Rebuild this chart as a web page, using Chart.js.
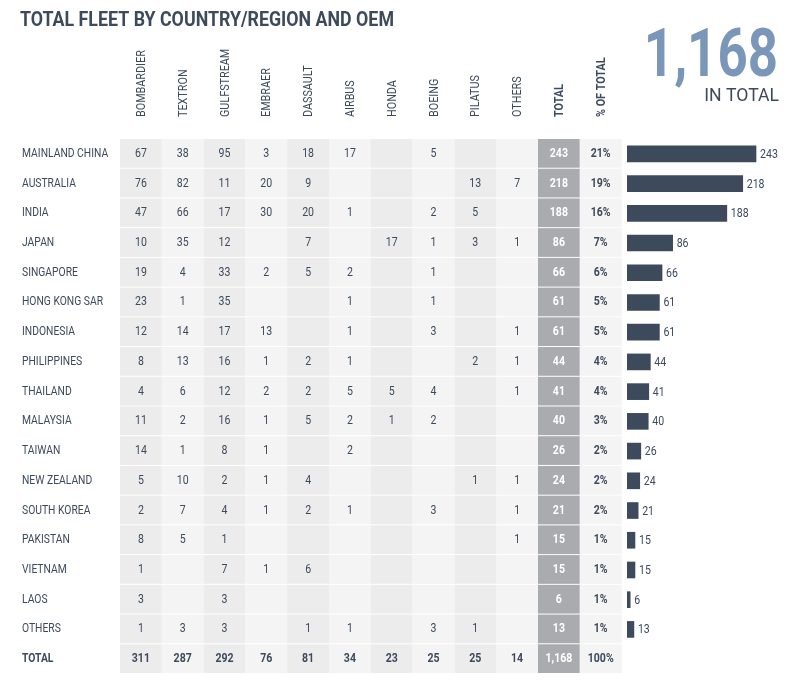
<!DOCTYPE html>
<html>
<head>
<meta charset="utf-8">
<script src="https://cdn.jsdelivr.net/npm/chart.js@4"></script>
<style>
  html, body { margin: 0; padding: 0; background: #fff; }
  #wrap { position: relative; width: 796px; height: 680px; }
</style>
</head>
<body>
<div id="wrap"><canvas id="fleet" width="796" height="680"></canvas></div>
<script>
const FONT = "'Roboto', sans-serif";
const oems = ["BOMBARDIER", "TEXTRON", "GULFSTREAM", "EMBRAER", "DASSAULT", "AIRBUS", "HONDA", "BOEING", "PILATUS", "OTHERS"];

// country, per-OEM counts, total, share
const rows = [
  ["MAINLAND CHINA", [67, 38, 95, 3, 18, 17, null, 5, null, null], 243, "21%"],
  ["AUSTRALIA",      [76, 82, 11, 20, 9, null, null, null, 13, 7], 218, "19%"],
  ["INDIA",          [47, 66, 17, 30, 20, 1, null, 2, 5, null], 188, "16%"],
  ["JAPAN",          [10, 35, 12, null, 7, null, 17, 1, 3, 1], 86, "7%"],
  ["SINGAPORE",      [19, 4, 33, 2, 5, 2, null, 1, null, null], 66, "6%"],
  ["HONG KONG SAR",  [23, 1, 35, null, null, 1, null, 1, null, null], 61, "5%"],
  ["INDONESIA",      [12, 14, 17, 13, null, 1, null, 3, null, 1], 61, "5%"],
  ["PHILIPPINES",    [8, 13, 16, 1, 2, 1, null, null, 2, 1], 44, "4%"],
  ["THAILAND",       [4, 6, 12, 2, 2, 5, 5, 4, null, 1], 41, "4%"],
  ["MALAYSIA",       [11, 2, 16, 1, 5, 2, 1, 2, null, null], 40, "3%"],
  ["TAIWAN",         [14, 1, 8, 1, null, 2, null, null, null, null], 26, "2%"],
  ["NEW ZEALAND",    [5, 10, 2, 1, 4, null, null, null, 1, 1], 24, "2%"],
  ["SOUTH KOREA",    [2, 7, 4, 1, 2, 1, null, 3, null, 1], 21, "2%"],
  ["PAKISTAN",       [8, 5, 1, null, null, null, null, null, null, 1], 15, "1%"],
  ["VIETNAM",        [1, null, 7, 1, 6, null, null, null, null, null], 15, "1%"],
  ["LAOS",           [3, null, 3, null, null, null, null, null, null, null], 6, "1%"],
  ["OTHERS",         [1, 3, 3, null, 1, 1, null, 3, 1, null], 13, "1%"]
];
const totalRow = ["TOTAL", [311, 287, 292, 76, 81, 34, 23, 25, 25, 14], "1,168", "100%"];

const colX0 = 120, colW = 41.8;

// condensed text: squeeze horizontally
function txt(ctx, s, x, y, sx) {
  ctx.save();
  ctx.translate(x, y);
  ctx.scale(sx || 0.85, 1);
  ctx.fillText(s, 0, 0);
  ctx.restore();
}

const tablePlugin = {
  id: "fleetTable",
  beforeDatasetsDraw(chart) {
    const ctx = chart.ctx, y = chart.scales.y;
    const all = rows.concat([totalRow]);
    const h = y.getPixelForValue(1) - y.getPixelForValue(0);
    ctx.save();
    ctx.fillStyle = "#3d4a5c";
    ctx.font = "bold 20px " + FONT;
    ctx.textBaseline = "alphabetic";
    ctx.textAlign = "left";
    txt(ctx, "TOTAL FLEET BY COUNTRY/REGION AND OEM", 20, 26, 0.89);
    ctx.fillStyle = "#7a96b8";
    ctx.font = "bold 66px " + FONT;
    ctx.textAlign = "right";
    txt(ctx, "1,168", 778, 76, 0.8);
    ctx.fillStyle = "#3d4a5c";
    ctx.font = "18px " + FONT;
    txt(ctx, "IN TOTAL", 779, 101, 0.98);

    const heads = oems.concat(["TOTAL", "% OF TOTAL"]);
    heads.forEach((t, i) => {
      ctx.save();
      ctx.translate(colX0 + colW * i + colW / 2 + 4, 117);
      ctx.rotate(-Math.PI / 2);
      ctx.textAlign = "left";
      ctx.font = (i >= 10 ? "bold " : "") + "12px " + FONT;
      ctx.fillStyle = "#3d4a5c";
      txt(ctx, t, 0, 0, 0.9);
      ctx.restore();
    });

    all.forEach((r, ri) => {
      const cy = y.getPixelForValue(ri);
      const top = cy - h / 2;
      const isTot = ri === all.length - 1;
      const cells = r[1].concat([r[2], r[3]]);
      cells.forEach((v, ci) => {
        const x = colX0 + colW * ci;
        ctx.fillStyle = ci === 10 ? "#a9abae" : (ci % 2 === 0 ? "#ececec" : "#f4f4f4");
        ctx.fillRect(x, top, colW, h - 1);
        if (v === null) return;
        ctx.fillStyle = ci === 10 ? "#ffffff" : "#3d4a5c";
        ctx.font = (isTot || ci >= 10 ? "bold " : "") + "12px " + FONT;
        ctx.textAlign = "center";
        ctx.textBaseline = "middle";
        txt(ctx, String(v), x + colW / 2, cy, 0.88);
      });
      ctx.fillStyle = "#3d4a5c";
      ctx.font = (isTot ? "bold " : "") + "12px " + FONT;
      ctx.textAlign = "left";
      ctx.textBaseline = "middle";
      txt(ctx, r[0], 22, cy, 0.86);
    });
    ctx.restore();
  },
  afterDatasetsDraw(chart) {
    const ctx = chart.ctx;
    const meta = chart.getDatasetMeta(0);
    ctx.save();
    ctx.fillStyle = "#3d4a5c";
    ctx.font = "12px " + FONT;
    ctx.textAlign = "left";
    ctx.textBaseline = "middle";
    meta.data.forEach((bar, i) => {
      const v = chart.data.datasets[0].data[i];
      if (v == null) return;
      txt(ctx, String(v), bar.x + 4, bar.y + 1, 0.88);
    });
    ctx.restore();
  }
};

new Chart(document.getElementById("fleet").getContext("2d"), {
  type: "bar",
  data: {
    labels: rows.map(r => r[0]).concat(["TOTAL"]),
    datasets: [{
      data: rows.map(r => r[2]).concat([null]),
      backgroundColor: "#3d4a5c",
      barThickness: 16
    }]
  },
  options: {
    indexAxis: "y",
    responsive: false,
    animation: false,
    layout: { padding: { left: 627, top: 139, bottom: 6, right: 6 } },
    scales: {
      x: { display: false, min: 0, max: 307 },
      y: { display: false }
    },
    plugins: { legend: { display: false }, tooltip: { enabled: false } }
  },
  plugins: [tablePlugin]
});
</script>
</body>
</html>
